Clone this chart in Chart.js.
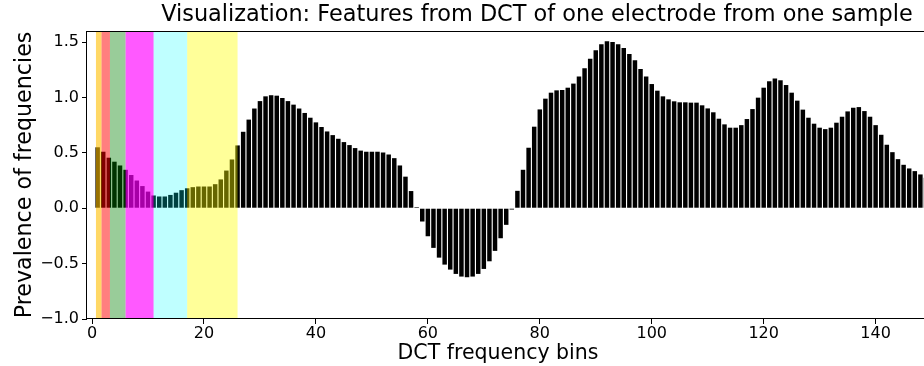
<!DOCTYPE html>
<html><head><meta charset="utf-8">
<script src="https://cdn.jsdelivr.net/npm/chart.js@4/dist/chart.umd.min.js"></script>
<style>
html,body{margin:0;padding:0;background:#fff;overflow:hidden;}
#wrap{width:924px;height:366px;overflow:hidden;position:relative;background:#fff;}
#c{position:absolute;left:0;top:0;}
</style></head><body>
<div id="wrap"><canvas id="c" width="1004" height="366"></canvas></div>
<script>
// ---- data ----
const values = [
  0.55, 0.51, 0.456, 0.42, 0.386, 0.347, 0.30, 0.25, 0.20, 0.15,
  0.115, 0.106, 0.106, 0.12, 0.14, 0.163, 0.18, 0.19, 0.196, 0.196,
  0.196, 0.217, 0.26, 0.34, 0.44, 0.567, 0.69, 0.80, 0.90, 0.967,
  1.01, 1.02, 1.016, 0.995, 0.967, 0.935, 0.90, 0.86, 0.817, 0.775,
  0.733, 0.693, 0.66, 0.627, 0.597, 0.57, 0.543, 0.52, 0.51, 0.51,
  0.51, 0.503, 0.485, 0.452, 0.386, 0.285, 0.155, 0.01, -0.12, -0.253,
  -0.358, -0.446, -0.509, -0.554, -0.593, -0.617, -0.623, -0.617, -0.593, -0.548,
  -0.479, -0.385, -0.271, -0.15, -0.012, 0.157, 0.347, 0.546, 0.736, 0.892,
  0.989, 1.043, 1.064, 1.067, 1.088, 1.125, 1.188, 1.263, 1.35, 1.426,
  1.48, 1.507, 1.50, 1.48, 1.447, 1.392, 1.335, 1.257, 1.188, 1.121,
  1.061, 1.01, 0.983, 0.965, 0.956, 0.956, 0.953, 0.953, 0.929, 0.901,
  0.866, 0.808, 0.757, 0.727, 0.727, 0.75, 0.805, 0.895, 0.998, 1.088,
  1.146, 1.17, 1.155, 1.112, 1.043, 0.971, 0.89, 0.817, 0.763, 0.727,
  0.714, 0.727, 0.772, 0.826, 0.874, 0.907, 0.913, 0.877, 0.826, 0.75,
  0.663, 0.573, 0.506, 0.443, 0.392, 0.359, 0.335, 0.305, 0.275
];
const firstBin = 1;
const bins = values.map((_, i) => firstBin + i);
const xTickValues = [0, 20, 40, 60, 80, 100, 120, 140];
const yTickValues = [-1.0, -0.5, 0.0, 0.5, 1.0, 1.5];
const bandStarts = [0.7, 1.7, 3.2, 6, 11, 17];
const bandEnds   = [1.7, 3.2, 6, 11, 17, 26];
const xLimits = [-0.9, 159.9];
const yLimits = [-1.0, 1.6];
const titleText = 'Visualization: Features from DCT of one electrode from one sample';
const xLabel = 'DCT frequency bins';
const yLabel = 'Prevalence of frequencies';

// ---- styles ----
const bandColors = [
  'rgba(255,190,0,0.6)',
  'rgba(255,0,0,0.5)',
  'rgba(0,128,0,0.4)',
  'rgba(255,0,255,0.65)',
  'rgba(0,255,255,0.25)',
  'rgba(255,255,0,0.4)'
];
const FONT = 'DejaVu Sans';
const fmt = v => (v < 0 ? '\u2212' : '') + Math.abs(v).toFixed(1);

const bandsPlugin = {
  id: 'bands',
  afterDatasetsDraw(chart) {
    const {ctx, chartArea, scales: {x}} = chart;
    ctx.save();
    ctx.beginPath();
    ctx.rect(chartArea.left, chartArea.top, chartArea.width, chartArea.height);
    ctx.clip();
    bandStarts.forEach((s, i) => {
      const x0 = x.getPixelForValue(s), x1 = x.getPixelForValue(bandEnds[i]);
      ctx.fillStyle = bandColors[i];
      ctx.fillRect(x0, chartArea.top, x1 - x0, chartArea.height);
    });
    ctx.restore();
  }
};
const framePlugin = {
  id: 'frame',
  afterDraw(chart) {
    const {ctx, chartArea} = chart;
    ctx.save();
    ctx.strokeStyle = '#000';
    ctx.lineWidth = 1;
    ctx.strokeRect(Math.round(chartArea.left) - 0.5, Math.round(chartArea.top) + 0.5,
                   Math.round(chartArea.width) + 1, Math.round(chartArea.height) - 1);
    ctx.restore();
  }
};

new Chart(document.getElementById('c'), {
  type: 'bar',
  data: {
    datasets: [{
      data: bins.map((b, i) => ({x: b, y: values[i]})),
      backgroundColor: '#000',
      borderWidth: 0,
      categoryPercentage: 1.0,
      barPercentage: 0.8
    }]
  },
  options: {
    responsive: false,
    animation: false,
    devicePixelRatio: 1,
    layout: {padding: {left: 9, right: 17, top: 0, bottom: 0}},
    plugins: {
      legend: {display: false},
      tooltip: {enabled: false},
      title: {
        display: true, text: titleText, color: '#000',
        font: {family: FONT, size: 22.4, weight: 'normal', lineHeight: 1.2},
        padding: {top: 2, bottom: 2.1}, fullSize: false
      },
      subtitle: {
        display: true, position: 'bottom', fullSize: true, text: xLabel, color: '#000',
        font: {family: FONT, size: 20.5, weight: 'normal', lineHeight: 1.2},
        padding: {top: 2, bottom: 0}
      }
    },
    scales: {
      x: {
        type: 'linear', min: xLimits[0], max: xLimits[1], offset: false,
        afterBuildTicks: s => { s.ticks = xTickValues.map(v => ({value: v})); },
        afterFit: s => { s.height = 20.4; },
        grid: {display: true, offset: false, drawOnChartArea: false, drawTicks: true, tickLength: 5, tickColor: '#000', tickWidth: 1},
        border: {display: false},
        ticks: {color: '#000', font: {family: FONT, size: 16}, padding: 0, maxRotation: 0, autoSkip: false,
                callback: v => String(v)},
        title: {display: false}
      },
      y: {
        min: yLimits[0], max: yLimits[1],
        afterBuildTicks: s => { s.ticks = yTickValues.map(v => ({value: v})); },
        afterFit: s => { s.width = 78; },
        grid: {display: true, drawOnChartArea: false, drawTicks: true, tickLength: 5, tickColor: '#000', tickWidth: 1},
        border: {display: false},
        ticks: {color: '#000', font: {family: FONT, size: 16}, padding: 3, callback: v => fmt(v)},
        title: {display: true, text: yLabel, color: '#000', font: {family: FONT, size: 22.2}, padding: {top: 3, bottom: 0}}
      }
    }
  },
  plugins: [bandsPlugin, framePlugin]
});
</script>
</body></html>
